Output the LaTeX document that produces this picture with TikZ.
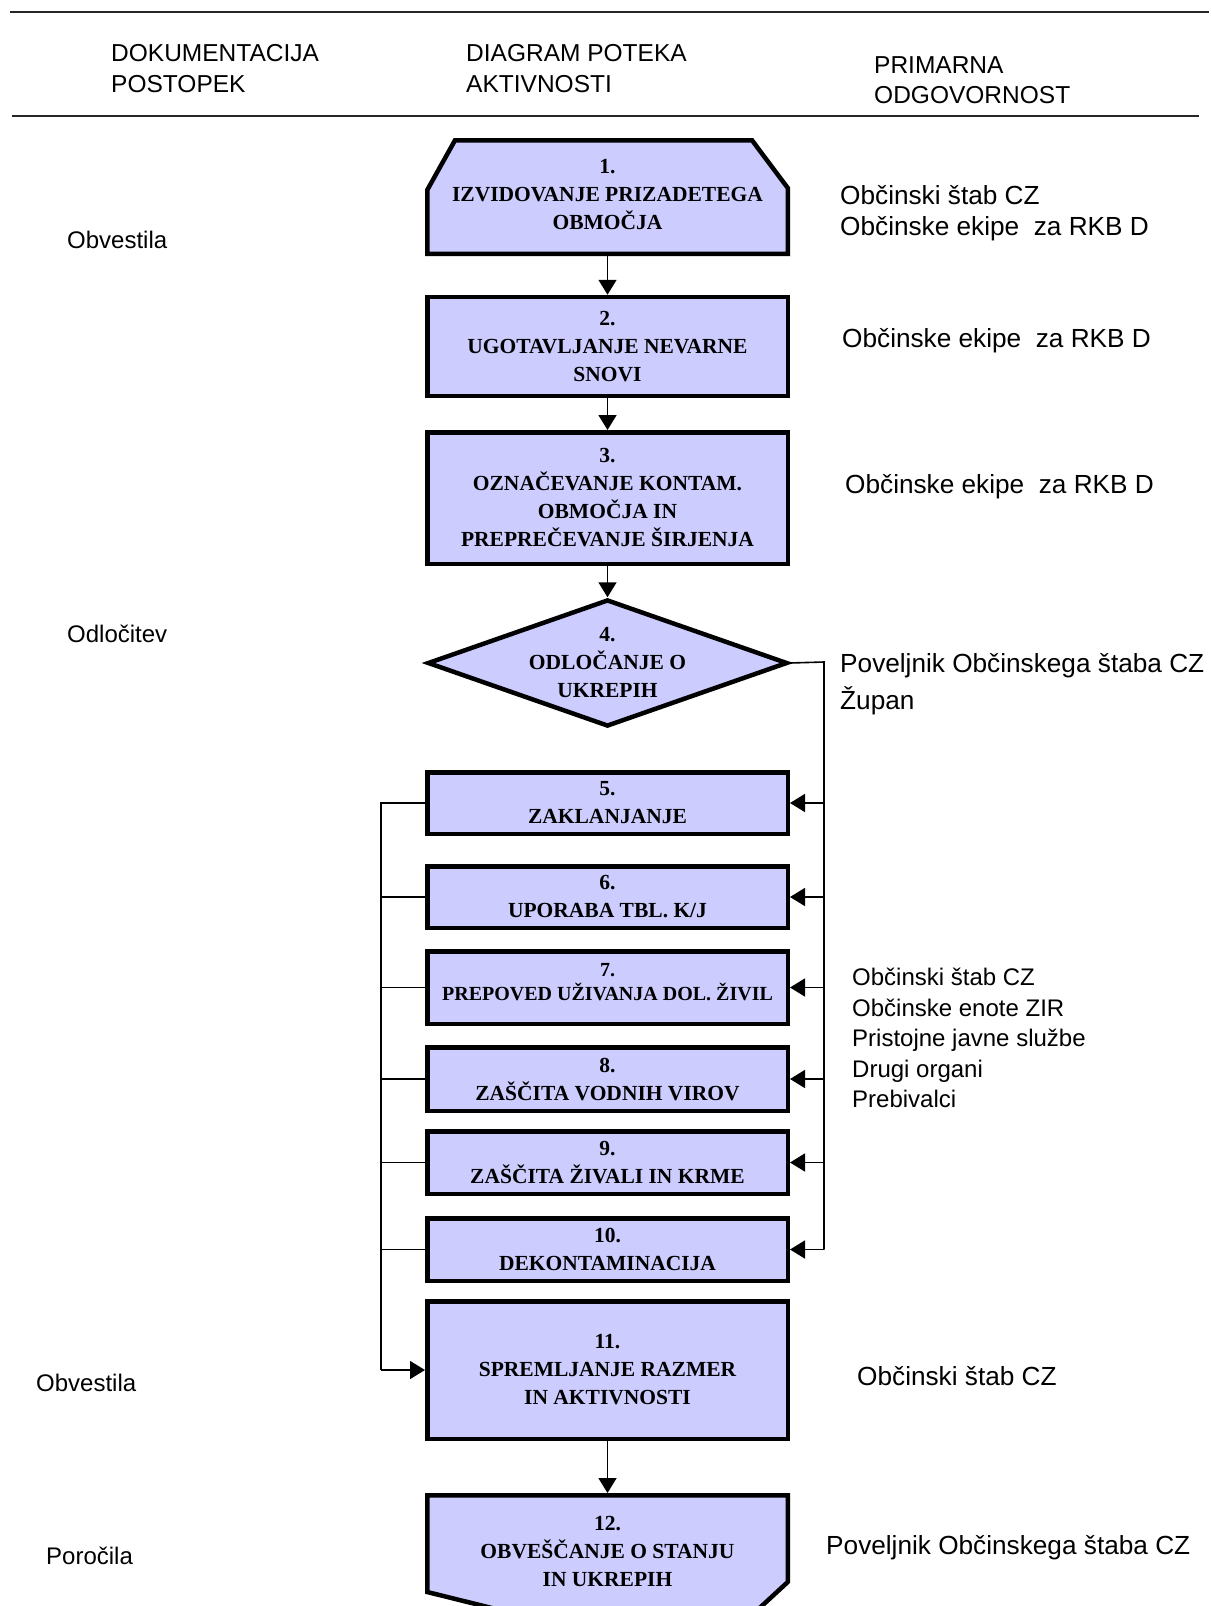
\documentclass[tikz,border=0pt]{standalone}
\usepackage{fontspec}
\setmainfont{Liberation Serif}
\setsansfont{Liberation Sans}
\usetikzlibrary{arrows.meta,shapes.geometric,backgrounds}
\definecolor{boxfill}{RGB}{204,204,255}
\tikzset{
  boxline/.style={draw=black, line width=4.5pt, fill=boxfill, line join=miter},
  boxtext/.style={align=center, inner sep=0pt, font=\fontsize{21.5}{28}\selectfont\bfseries},
  smalltext/.style={align=center, inner sep=0pt, font=\fontsize{20}{24}\selectfont\bfseries},
  stepbox/.style={boxline, rectangle, minimum width=360.5, inner sep=0pt, boxtext},
  conn/.style={line width=1.6pt, draw=black},
  arr/.style={conn, -{Triangle[length=15pt,width=18pt]}},
  hdr/.style={anchor=base west, inner sep=0pt, font=\sffamily\fontsize{24.5}{30}\selectfont},
  lefttxt/.style={anchor=base west, inner sep=0pt, font=\sffamily\fontsize{24}{30}\selectfont},
  righttxt/.style={anchor=base west, inner sep=0pt, font=\sffamily\fontsize{26.2}{30}\selectfont},
  grptxt/.style={anchor=base west, inner sep=0pt, font=\sffamily\fontsize{24}{30}\selectfont},
  rule/.style={line width=2.6pt, draw=black!85}
}
\begin{document}
\begin{tikzpicture}[x=1pt,y=-1pt]
\useasboundingbox (0,0) rectangle (1210,1606);

% header
\draw[rule] (10,12) -- (1209,12);
\draw[rule] (12,116) -- (1199,116);
\node[hdr] (h1a) at (111,61) {DOKUMENTACIJA};
\node[hdr] (h1b) at (111,92) {POSTOPEK};
\node[hdr] (h2a) at (466,61) {DIAGRAM POTEKA};
\node[hdr] (h2b) at (466,92) {AKTIVNOSTI};
\node[hdr] (h3a) at (874,73) {PRIMARNA};
\node[hdr] (h3b) at (874,103) {ODGOVORNOST};

% steps
\node[stepbox, draw=none, fill=none, minimum height=113.5] (b1) at (607.5,197) {};
\node[boxtext] (t1) at (607.5,195) {1.\\IZVIDOVANJE PRIZADETEGA\\OBMOČJA};
\node[stepbox, minimum height=99] (b2) at (607.5,346.5) {2.\\UGOTAVLJANJE NEVARNE\\SNOVI};
\node[stepbox, minimum height=131.5] (b3) at (607.5,498) {3.\\OZNAČEVANJE KONTAM.\\OBMOČJA IN\\PREPREČEVANJE ŠIRJENJA};
\node[diamond, boxline, minimum width=360, minimum height=127, inner sep=0pt] (d4) at (607.5,663) {};
\node[boxtext] (t4) at (d4.center) {4.\\ODLOČANJE O\\UKREPIH};
\node[stepbox, minimum height=61.5] (b5) at (607.5,803) {5.\\ZAKLANJANJE};
\node[stepbox, minimum height=61.5] (b6) at (607.5,897) {6.\\UPORABA TBL. K/J};
\node[stepbox, minimum height=72.5] (b7) at (607.5,987.5) {};
\node[smalltext] (t7) at (607.5,982) {7.\\PREPOVED UŽIVANJA DOL. ŽIVIL};
\node[stepbox, minimum height=63.5] (b8) at (607.5,1079) {8.\\ZAŠČITA VODNIH VIROV};
\node[stepbox, minimum height=62.5] (b9) at (607.5,1162.5) {9.\\ZAŠČITA ŽIVALI IN KRME};
\node[stepbox, minimum height=62.5] (b10) at (607.5,1249.5) {10.\\DEKONTAMINACIJA};
\node[stepbox, minimum height=137.5] (b11) at (607.5,1370) {11.\\SPREMLJANJE RAZMER\\IN AKTIVNOSTI};
\node[stepbox, draw=none, fill=none, minimum height=111.5] (b12) at (607.5,1551) {12.\\OBVEŠČANJE O STANJU\\IN UKREPIH};

\begin{scope}[on background layer]
\draw[boxline] (427.25,190) -- (455,140.25) -- (752,140.25) -- (787.75,188) -- (787.75,253.75) -- (427.25,253.75) -- cycle;
\draw[boxline] (427.25,1495.25) -- (787.75,1495.25) -- (787.75,1582) -- (752,1615) -- (520,1615) -- (427.25,1592) -- cycle;
\end{scope}

% main flow
\draw[arr] (b1.south) -- (b2.north);
\draw[arr] (b2.south) -- (b3.north);
\draw[arr] (b3.south) -- (d4.north);
\draw[arr] (b11.south) -- (b12.north);

% right bus
\coordinate (rbus) at (824,662);
\coordinate (rend) at (824,1249.5);
\draw[conn] (d4.east) -- (rbus) -- (rend);
\foreach \b in {b5,b6,b7,b8,b9,b10}
  \draw[arr] (\b.east -| rbus) -- (\b.east);

% left bus
\coordinate (lbus) at (381,803);
\draw[conn] (b5.west) -- (lbus) -- (lbus |- b11.west);
\foreach \b in {b6,b7,b8,b9,b10}
  \draw[conn] (\b.west) -- (\b.west -| lbus);
\draw[arr] (lbus |- b11.west) -- (b11.west);

% left column
\node[lefttxt] (l1) at (67,248) {Obvestila};
\node[lefttxt] (l2) at (67,642) {Odločitev};
\node[lefttxt] (l3) at (36,1391) {Obvestila};
\node[lefttxt] (l4) at (46,1564) {Poročila};

% right column
\node[righttxt] (r1a) at (840,204) {Občinski štab CZ};
\node[righttxt] (r1b) at (840,235) {Občinske ekipe\ \ za RKB D};
\node[righttxt] (r2) at (842,347) {Občinske ekipe\ \ za RKB D};
\node[righttxt] (r3) at (845,493) {Občinske ekipe\ \ za RKB D};
\node[righttxt] (r4a) at (840,672) {Poveljnik Občinskega štaba CZ};
\node[righttxt] (r4b) at (840,709) {Župan};
\node[grptxt] (g1) at (852,985) {Občinski štab CZ};
\node[grptxt] (g2) at (852,1016) {Občinske enote ZIR};
\node[grptxt] (g3) at (852,1046) {Pristojne javne službe};
\node[grptxt] (g4) at (852,1077) {Drugi organi};
\node[grptxt] (g5) at (852,1107) {Prebivalci};
\node[righttxt] (r11) at (857,1385) {Občinski štab CZ};
\node[righttxt] (r12) at (826,1554) {Poveljnik Občinskega štaba CZ};
\end{tikzpicture}
\end{document}
